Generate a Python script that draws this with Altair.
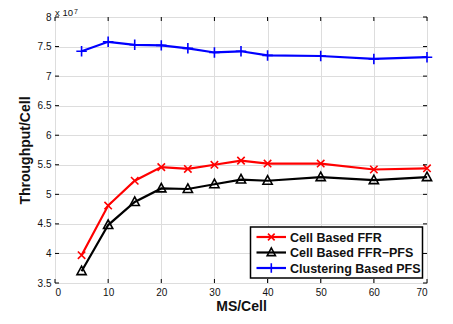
import altair as alt
import pandas as pd

# ---- data (throughput in units of 1e7) ----
ms = [5, 10, 15, 20, 25, 30, 35, 40, 50, 60, 70]
ffr = [3.97, 4.81, 5.23, 5.46, 5.43, 5.50, 5.57, 5.52, 5.52, 5.42, 5.44]
ffr_pfs = [3.70, 4.48, 4.87, 5.10, 5.09, 5.17, 5.25, 5.23, 5.29, 5.24, 5.29]
clustering = [7.42, 7.58, 7.53, 7.52, 7.47, 7.40, 7.42, 7.35, 7.34, 7.29, 7.32]
series = ["Cell Based FFR", "Cell Based FFR\u2212PFS", "Clustering Based PFS"]
colors = ["#ff0000", "#000000", "#0000ff"]
shapes = ["M-1,-1L1,1M-1,1L1,-1", "M0,-1.1L1,0.75L-1,0.75Z", "M-1,0H1M0,-1V1"]
marker_sizes = [55, 85, 110]
x_ticks = [0, 10, 20, 30, 40, 50, 60, 70]
y_ticks = [3.5, 4, 4.5, 5, 5.5, 6, 6.5, 7, 7.5, 8]

W, H = 372, 266
FONT = "Liberation Sans"

rows = []
for name, vals in zip(series, [ffr, ffr_pfs, clustering]):
    for m, v in zip(ms, vals):
        rows.append({"ms": m, "tp": v, "series": name})
df = pd.DataFrame(rows)

xscale = alt.Scale(domain=[0, 70], nice=False, zero=False)
yscale = alt.Scale(domain=[3.5, 8], nice=False, zero=False)

xenc = alt.X("ms:Q", scale=xscale, axis=alt.Axis(
    values=x_ticks, tickCount=20, title="MS/Cell", grid=True, domain=False, ticks=False,
    labelOverlap=False, labelFontSize=10, labelPadding=4, labelColor="#111",
    titleFontSize=14, titleFontWeight="bold", titlePadding=2, titleColor="#111"))
yenc = alt.Y("tp:Q", scale=yscale, axis=alt.Axis(
    values=y_ticks, tickCount=20, title="Throughput/Cell", grid=True, domain=False, ticks=False,
    labelOverlap=False, labelFontSize=10, labelPadding=4, labelColor="#111",
    format="~g",
    titleFontSize=14, titleFontWeight="bold", titlePadding=5, titleColor="#111"))

layers = []
# lines
layers.append(alt.Chart(df).mark_line(strokeWidth=2.2).encode(
    x=xenc, y=yenc,
    color=alt.Color("series:N", scale=alt.Scale(domain=series, range=colors), legend=None),
    detail="series:N"))
# markers
for name, col, shp, sz in zip(series, colors, shapes, marker_sizes):
    layers.append(alt.Chart(df[df.series == name]).mark_point(
        shape=shp, filled=False, stroke=col, strokeWidth=1.6, size=sz, opacity=1
    ).encode(x=alt.X("ms:Q", scale=xscale), y=alt.Y("tp:Q", scale=yscale)))

# inward ticks on all four sides
xt = pd.DataFrame({"ms": x_ticks})
yt = pd.DataFrame({"tp": y_ticks})
layers.append(alt.Chart(xt).mark_rule(color="black", strokeWidth=1).encode(
    x=alt.X("ms:Q", scale=xscale), y=alt.value(H), y2=alt.value(H - 4)))
layers.append(alt.Chart(xt).mark_rule(color="black", strokeWidth=1).encode(
    x=alt.X("ms:Q", scale=xscale), y=alt.value(0), y2=alt.value(4)))
layers.append(alt.Chart(yt).mark_rule(color="black", strokeWidth=1).encode(
    y=alt.Y("tp:Q", scale=yscale), x=alt.value(0), x2=alt.value(4)))
layers.append(alt.Chart(yt).mark_rule(color="black", strokeWidth=1).encode(
    y=alt.Y("tp:Q", scale=yscale), x=alt.value(W), x2=alt.value(W - 4)))

# exponent label
one = pd.DataFrame({"a": [0]})
layers.append(alt.Chart(one).mark_text(text="x 10", font=FONT, fontSize=9.5, align="left",
                                       baseline="alphabetic", color="#111").encode(
    x=alt.value(0), y=alt.value(-1)))
layers.append(alt.Chart(one).mark_text(text="7", font=FONT, fontSize=7, align="left",
                                       baseline="alphabetic", color="#111").encode(
    x=alt.value(19), y=alt.value(-3.5)))

# manual legend
LX0, LX1, LY0, LY1 = 195.5, 367.5, 210, 261
layers.append(alt.Chart(one).mark_rect(fill="white", stroke="black", strokeWidth=1.5).encode(
    x=alt.value(LX0), x2=alt.value(LX1), y=alt.value(LY0), y2=alt.value(LY1)))
row_y = [220, 235.5, 251]
for name, col, shp, sz, ry in zip(series, colors, shapes, marker_sizes, row_y):
    layers.append(alt.Chart(one).mark_rule(color=col, strokeWidth=2.2).encode(
        x=alt.value(201.5), x2=alt.value(231), y=alt.value(ry)))
    layers.append(alt.Chart(one).mark_point(shape=shp, filled=False, stroke=col,
                                            strokeWidth=1.6, size=sz * 0.8, opacity=1).encode(
        x=alt.value(216.3), y=alt.value(ry)))
    layers.append(alt.Chart(one).mark_text(text=name, font=FONT, fontSize=12.5, fontWeight="bold",
                                           align="left", baseline="middle", color="#111").encode(
        x=alt.value(235), y=alt.value(ry + 0.5)))

chart = alt.layer(*layers).properties(
    width=W, height=H,
    autosize=alt.AutoSizeParams(type="none"),
    padding={"left": 47, "top": 9, "right": 18, "bottom": 33},
).configure_view(stroke="black", strokeWidth=1).configure_axis(
    gridColor="#555", gridDash=[1, 3], gridWidth=1, gridOpacity=1,
    labelFont=FONT, titleFont=FONT
).configure(background="white")

chart.save("out.html", embed_options={"renderer": "svg", "actions": False})
